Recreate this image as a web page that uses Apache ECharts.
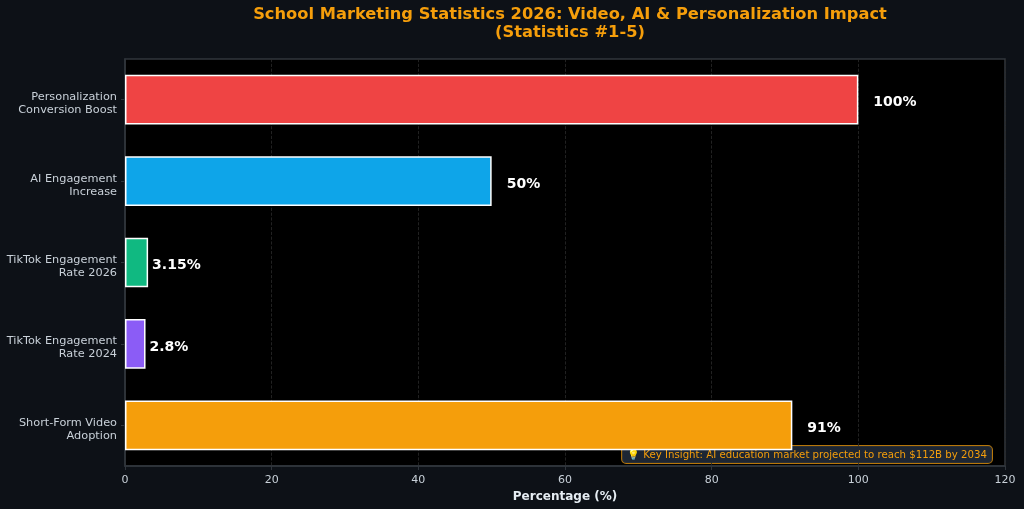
<!DOCTYPE html>
<html>
<head>
<meta charset="utf-8">
<script src="https://cdn.jsdelivr.net/npm/echarts@6/dist/echarts.min.js"></script>
<style>
  html, body { margin: 0; padding: 0; background: #0d1117; }
  #chart { width: 1024px; height: 509px; }
</style>
</head>
<body>
<div id="chart"></div>
<script>
// bottom to top, as echarts lays out a category y axis
const categories = [
  'Short-Form Video\nAdoption',
  'TikTok Engagement\nRate 2024',
  'TikTok Engagement\nRate 2026',
  'AI Engagement\nIncrease',
  'Personalization\nConversion Boost'
];
const values = [91, 2.8, 3.15, 50, 100];
const valueLabels = ['91%', '2.8%', '3.15%', '50%', '100%'];
const barColors = ['#f59e0b', '#8b5cf6', '#10b981', '#0ea5e9', '#ef4444'];
const xTicks = [0, 20, 40, 60, 80, 100, 120];

const chart = echarts.init(document.getElementById('chart'));
const font = 'DejaVu Sans';

chart.setOption({
  backgroundColor: '#0d1117',
  textStyle: { fontFamily: font },
  title: {
    text: 'School Marketing Statistics 2026: Video, AI & Personalization Impact\n(Statistics #1-5)',
    left: 565,
    textAlign: 'center',
    top: 1,
    textStyle: { color: '#f59e0b', fontSize: 16.3, fontWeight: 'bold', lineHeight: 18, fontFamily: font }
  },
  grid: {
    left: 125, right: 19, top: 59, bottom: 43,
    show: true, backgroundColor: '#000000', borderColor: '#30363d', borderWidth: 1.5
  },
  xAxis: {
    type: 'value',
    min: xTicks[0], max: xTicks[xTicks.length - 1], interval: 20,
    name: 'Percentage (%)',
    nameLocation: 'middle',
    nameGap: 24,
    nameTextStyle: { color: '#e6edf3', fontSize: 12, fontWeight: 'bold', fontFamily: font },
    axisLine: { show: true, lineStyle: { color: '#30363d', width: 1.5 } },
    axisTick: { show: true, length: 4, lineStyle: { color: '#30363d' } },
    axisLabel: { color: '#c9d1d9', fontSize: 11, margin: 9, fontFamily: font },
    splitLine: { show: true, lineStyle: { color: '#2a2a2a', type: 'dashed', width: 0.8 } }
  },
  yAxis: {
    type: 'category',
    data: categories,
    axisLine: { show: true, lineStyle: { color: '#30363d', width: 1.5 } },
    axisTick: { show: true, length: 4, alignWithLabel: true, lineStyle: { color: '#30363d' } },
    axisLabel: {
      color: '#c9d1d9', fontSize: 11.3, lineHeight: 13, margin: 8, fontFamily: font,
      // empty spacer line on top nudges the two text lines down a few px
      formatter: v => '{s| }\n' + v.split('\n').map(t => '{a|' + t + '}').join('\n'),
      rich: {
        s: { fontSize: 4, lineHeight: 8, height: 8 },
        a: { fontSize: 11.3, lineHeight: 13, color: '#c9d1d9', fontFamily: font, align: 'right' }
      }
    },
    splitLine: { show: false }
  },
  series: [{
    type: 'bar',
    barWidth: '61%',
    data: values.map((v, i) => ({
      value: v,
      itemStyle: { color: barColors[i], borderColor: '#ffffff', borderWidth: 1.5 },
      label: { distance: v < 10 ? 4 : 15 }
    })),
    label: {
      show: true,
      position: 'right',
      color: '#ffffff',
      fontSize: 14,
      fontWeight: 'bold',
      fontFamily: font,
      offset: [0, 3],
      formatter: p => valueLabels[p.dataIndex]
    }
  }],
  graphic: [{
    type: 'text',
    right: 31,
    top: 445,
    style: {
      text: '\uD83D\uDCA1 Key Insight: AI education market projected to reach $112B by 2034',
      fill: '#f59e0b',
      fontSize: 10.2,
      fontFamily: font,
      backgroundColor: 'rgba(31,41,55,0.92)',
      borderColor: '#b7770a',
      borderWidth: 1,
      borderRadius: 4,
      padding: [4, 5, 3, 5]
    }
  }]
});
</script>
</body>
</html>
